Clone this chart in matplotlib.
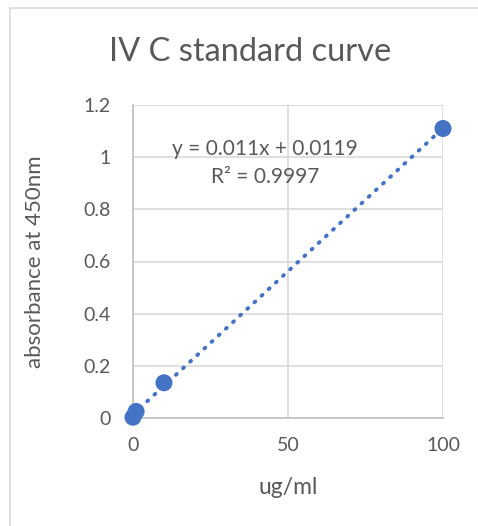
import numpy as np
import matplotlib.pyplot as plt
from matplotlib.patches import Rectangle

# standard curve data
conc = [0, 1, 10, 100]
absorb = [0.003, 0.025, 0.135, 1.11]
xticks = [0, 50, 100]
yticks = [0, 0.2, 0.4, 0.6, 0.8, 1, 1.2]
ytick_labels = ["0", "0.2", "0.4", "0.6", "0.8", "1", "1.2"]

blue = "#4472C4"
grid = "#D9D9D9"
txt = "#595959"

plt.rcParams['font.family'] = ['Lato', 'DejaVu Sans']

fig = plt.figure(figsize=(4.78, 5.26), dpi=100)
fig.patches.append(Rectangle((10/478, -0.1), 1.2, 1 - 8/526 + 0.1, transform=fig.transFigure,
                             fill=False, edgecolor=grid, linewidth=1.2))

ax = fig.add_axes([133/478, 1 - 418/526, 310/478, 313/526])
ax.set_xlim(0, 100)
ax.set_ylim(0, 1.2)

# linear trendline
m, b = np.polyfit(conc, absorb, 1)
xx = np.array([0, 100])
ax.plot(xx, m*xx + b, linestyle=(0, (0.3, 2.2)), color=blue, linewidth=2.8,
        dash_capstyle='round', zorder=3, clip_on=False)
ax.scatter(conc, absorb, s=150, color=blue, zorder=4, edgecolor='none', clip_on=False)

ax.set_xticks(xticks)
ax.set_yticks(yticks)
ax.set_yticklabels(ytick_labels)
ax.grid(True, color=grid, linewidth=1.2)
ax.set_axisbelow(True)
for s in ['top', 'right']:
    ax.spines[s].set_visible(False)
for s in ['left', 'bottom']:
    ax.spines[s].set_color("#BFBFBF")
    ax.spines[s].set_linewidth(1.2)
ax.tick_params(length=0, labelsize=14, colors=txt, pad=16)
ax.tick_params(axis='x', pad=14)

ax.set_xlabel("ug/ml", fontsize=16.5, color=txt, labelpad=16)
ax.set_ylabel("absorbance at 450nm", fontsize=16, color=txt, labelpad=28)
fig.text(250/478, 1 - 52/526, "IV C standard curve", ha='center', va='center', fontsize=23.5, color=txt)

ax.text(42.5, 1.03, "y = 0.011x + 0.0119", ha='center', va='center', fontsize=15, color=txt)
ax.text(42.5, 0.925, "R² = 0.9997", ha='center', va='center', fontsize=15, color=txt)

fig.savefig("out.png", dpi=100)
